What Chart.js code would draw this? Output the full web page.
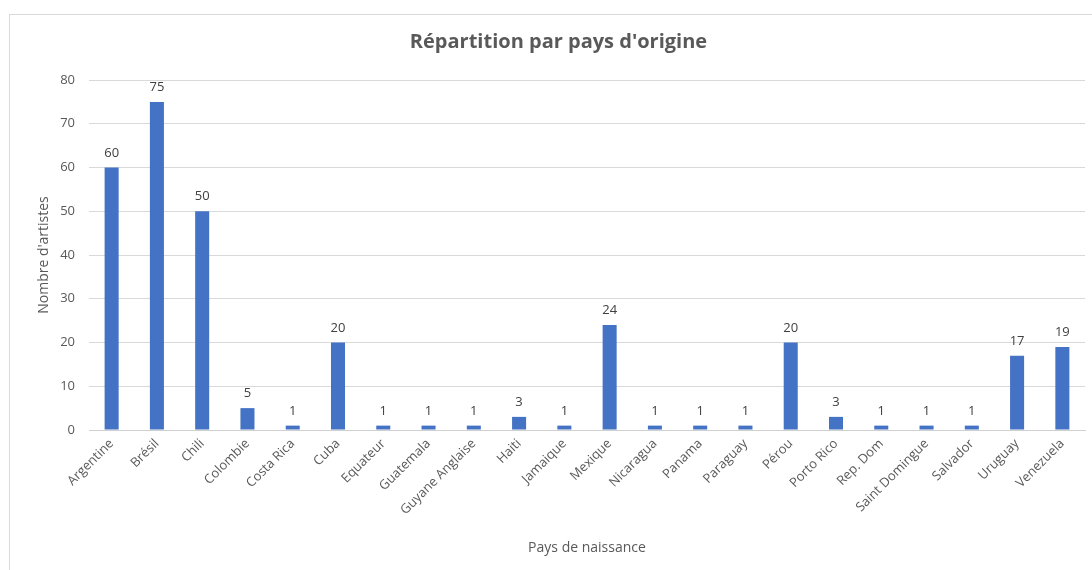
<!DOCTYPE html>
<html>
<head>
<meta charset="utf-8">
<script src="https://cdn.jsdelivr.net/npm/chart.js@4/dist/chart.umd.min.js"></script>
<style>
  html, body { margin: 0; padding: 0; background: #fff; }
  #wrap { position: relative; width: 1092px; height: 570px; overflow: hidden; }
  #frame { position: absolute; left: 9px; top: 14px; width: 1200px; height: 700px; border: 1px solid #d9d9d9; box-sizing: border-box; }
  canvas { position: absolute; left: 0; top: 0; }
</style>
</head>
<body>
<div id="wrap">
  <div id="frame"></div>
  <canvas id="c" width="1092" height="570"></canvas>
</div>
<script>
const categories = ["Argentine","Brésil","Chili","Colombie","Costa Rica","Cuba","Equateur","Guatemala","Guyane Anglaise","Haiti","Jamaique","Mexique","Nicaragua","Panama","Paraguay","Pérou","Porto Rico","Rep. Dom","Saint Domingue","Salvador","Uruguay","Venezuela"];
const artistCounts = [60,75,50,5,1,20,1,1,1,3,1,24,1,1,1,20,3,1,1,1,17,19];
const chartTitle = "Répartition par pays d'origine";
const yAxisTitle = "Nombre d'artistes";
const xAxisTitle = "Pays de naissance";

const FONT = "'Open Sans', 'Liberation Sans', sans-serif";
const TEXT = "#595959";

const valueLabels = {
  id: 'valueLabels',
  afterDatasetsDraw(chart) {
    const ctx = chart.ctx;
    const meta = chart.getDatasetMeta(0);
    ctx.save();
    ctx.font = "13px " + FONT;
    ctx.fillStyle = "#404040";
    ctx.textAlign = "center";
    ctx.textBaseline = "bottom";
    meta.data.forEach((el, i) => {
      ctx.fillText(String(chart.data.datasets[0].data[i]), el.x, el.y - 8);
    });
    ctx.restore();
  }
};

new Chart(document.getElementById('c'), {
  type: 'bar',
  data: {
    labels: categories,
    datasets: [{
      data: artistCounts,
      backgroundColor: '#4472C4',
      borderWidth: 0,
      barPercentage: 0.62,
      categoryPercentage: 0.5
    }]
  },
  plugins: [valueLabels],
  options: {
    responsive: false,
    animation: false,
    layout: { padding: { left: 32, right: 7, top: 0, bottom: 10 } },
    plugins: {
      legend: { display: false },
      tooltip: { enabled: false },
      title: {
        display: true,
        text: chartTitle,
        color: TEXT,
        font: { family: FONT, size: 20, weight: 'bold' },
        padding: { top: 30, bottom: 26 }
      }
    },
    scales: {
      x: {
        grid: { display: false, drawTicks: false },
        border: { display: true, color: '#d0d0d0', width: 1 },
        ticks: {
          color: TEXT,
          font: { family: FONT, size: 13 },
          minRotation: 45,
          maxRotation: 45,
          autoSkip: false,
          padding: 6
        },
        title: {
          display: true,
          text: xAxisTitle,
          color: TEXT,
          font: { family: FONT, size: 14 },
          padding: { top: 4, bottom: 4 }
        },
        afterFit(scale) { scale.height = 130; }
      },
      y: {
        min: 0,
        max: 80,
        grid: { color: '#d9d9d9', drawTicks: false },
        border: { display: false },
        ticks: {
          stepSize: 10,
          color: TEXT,
          font: { family: FONT, size: 13 },
          padding: 14
        },
        title: {
          display: true,
          text: yAxisTitle,
          color: TEXT,
          font: { family: FONT, size: 14 },
          padding: { top: 4, bottom: 4 }
        },
        afterFit(scale) { scale.width = 57; }
      }
    }
  }
});
</script>
</body>
</html>
